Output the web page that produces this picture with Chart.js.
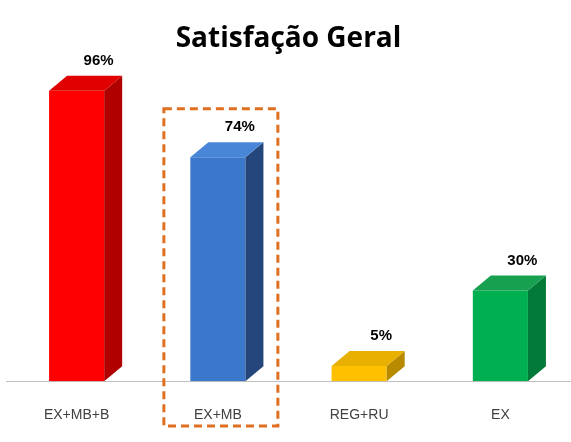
<!DOCTYPE html>
<html>
<head>
<meta charset="utf-8">
<script src="https://cdn.jsdelivr.net/npm/chart.js@4"></script>
<style>
  html, body { margin: 0; padding: 0; background: #fff; }
  #wrap { width: 571px; height: 442px; }
</style>
</head>
<body>
<div id="wrap"><canvas id="chart"></canvas></div>
<script>
const categories = ['EX+MB+B', 'EX+MB', 'REG+RU', 'EX']
const values = [96, 74, 5, 30]
const frontColors = ['#FF0000', '#3B78CC', '#FFC000', '#00B050']
const sideColors = ['#B00000', '#24467A', '#B88A00', '#007A36']
const topColors = ['#E00000', '#4A86D8', '#E8B000', '#16A050']
const highlightIndex = 1

const DX = 18, DY = 15

const bars3d = {
    id: 'bars3d',
    afterDatasetsDraw(chart) {
        const ctx = chart.ctx
        const meta = chart.getDatasetMeta(0)
        ctx.save()
        meta.data.forEach((bar, i) => {
            const l = bar.x - bar.width / 2, r = bar.x + bar.width / 2
            const t = bar.y, b = bar.base
            // side
            ctx.fillStyle = sideColors[i]
            ctx.beginPath()
            ctx.moveTo(r, t); ctx.lineTo(r + DX, t - DY); ctx.lineTo(r + DX, b - DY); ctx.lineTo(r, b)
            ctx.closePath(); ctx.fill()
            // top
            ctx.fillStyle = topColors[i]
            ctx.beginPath()
            ctx.moveTo(l, t); ctx.lineTo(l + DX, t - DY); ctx.lineTo(r + DX, t - DY); ctx.lineTo(r, t)
            ctx.closePath(); ctx.fill()
            // label
            ctx.fillStyle = '#000'
            ctx.font = 'bold 15px "Liberation Sans", sans-serif'
            ctx.textAlign = 'center'
            ctx.textBaseline = 'middle'
            ctx.fillText(values[i] + '%', bar.x + 22, t - 30)
        })
        // highlight box
        const x = chart.scales.x, y = chart.scales.y
        const cx = x.getPixelForValue(highlightIndex)
        ctx.strokeStyle = '#E07020'
        ctx.lineWidth = 3
        ctx.setLineDash([8, 5])
        ctx.strokeRect(cx - 54, y.getPixelForValue(90), 114, chart.height - 16 - y.getPixelForValue(90))
        ctx.restore()
    }
}

new Chart(document.getElementById('chart'), {
    type: 'bar',
    data: {
        labels: categories,
        datasets: [{
            data: values,
            backgroundColor: frontColors,
            barPercentage: 0.39,
            categoryPercentage: 1
        }]
    },
    options: {
        responsive: true,
        maintainAspectRatio: false,
        animation: false,
        layout: { padding: { left: 6, right: 0, bottom: 0 } },
        plugins: {
            legend: { display: false },
            tooltip: { enabled: false },
            title: {
                display: true,
                text: 'Satisfação Geral',
                color: '#000',
                font: { family: '"Open Sans", sans-serif', size: 28, weight: 'bold' },
                padding: { top: 22, bottom: 23 }
            }
        },
        scales: {
            y: { display: false, min: 0, max: 100 },
            x: {
                grid: { display: false },
                border: { color: '#BFBFBF', width: 1 },
                ticks: {
                    color: '#404040',
                    padding: 18,
                    font: { family: '"Liberation Sans", sans-serif', size: 14 }
                }
            }
        }
    },
    plugins: [bars3d]
})
</script>
</body>
</html>
